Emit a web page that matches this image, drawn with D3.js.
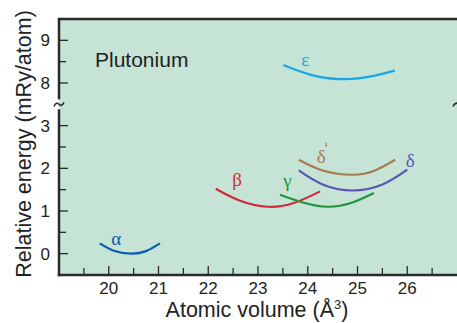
<!DOCTYPE html>
<html>
  <head>
    <meta charset="UTF-8">
    <script src="https://d3js.org/d3.v7.min.js"></script>
    <style>
      body { margin: 0; background: white; }
      text { font-family: "Liberation Sans", Arial, sans-serif; fill: #222; }
      .greek { font-family: "Liberation Serif", "DejaVu Serif", serif; font-size: 19px; }
    </style>
    <title>Plutonium</title>
  </head>
  <body>
    <svg id="chart" width="457" height="323"></svg>
    <script>
      // ticks
      const xMajor = [20, 21, 22, 23, 24, 25, 26];
      const xMinor = [19.5, 20.5, 21.5, 22.5, 23.5, 24.5, 25.5, 26.5];
      const yMajor = [0, 1, 2, 3, 8, 9];
      const yMinor = [0.5, 1.5, 2.5, 8.5];

      // energy curves: [volume, energy]
      const alphaPts  = [[19.82, 0.24], [20.1, 0.07], [20.45, 0.0], [20.75, 0.06], [21.03, 0.24]];
      const betaPts   = [[22.15, 1.52], [22.6, 1.26], [23.2, 1.1], [23.75, 1.2], [24.25, 1.46]];
      const gammaPts  = [[23.44, 1.38], [23.9, 1.2], [24.4, 1.1], [24.9, 1.2], [25.33, 1.42]];
      const deltaPts  = [[23.82, 1.95], [24.3, 1.62], [24.9, 1.48], [25.5, 1.62], [26.0, 1.97]];
      const delta2Pts = [[23.82, 2.2], [24.3, 1.95], [24.9, 1.85], [25.35, 1.95], [25.76, 2.2]];
      const epsPts    = [[23.51, 8.42], [24.1, 8.18], [24.75, 8.09], [25.3, 8.16], [25.75, 8.29]];

      const phaseNames  = ["α", "β", "γ", "δ", "δ", "ε"];
      const phaseCurves = [alphaPts, betaPts, gammaPts, deltaPts, delta2Pts, epsPts];
      const phaseColors = ["#0a5cad", "#d22a3d", "#22943f", "#5a55b2", "#a57c52", "#18a7e6"];
      const labelPos    = [[20.15, 0.21], [22.58, 1.59], [23.59, 1.57], [26.06, 2.02], [24.27, 2.13], [23.95, 8.40]];

      const svg = d3.select("svg#chart");
      const margin = {top: 19, left: 59, bottom: 275, right: 457};

      const x = d3.scaleLinear().domain([19, 27]).range([margin.left, margin.right]);
      // broken axis: 3.5 and 7.5 share the same position
      const brk = 275 - 4 * 256 / 6;
      const y = d3.scaleLinear().domain([-0.5, 3.5, 7.5, 9.5]).range([275, brk, brk, 19]);

      svg.append("rect")
         .attr("x", margin.left).attr("y", margin.top)
         .attr("width", margin.right - margin.left).attr("height", margin.bottom - margin.top)
         .attr("fill", "#c6e4d6");

      const line = d3.line().x(d => x(d[0])).y(d => y(d[1])).curve(d3.curveNatural);

      svg.selectAll("path.phase").data(phaseCurves)
         .enter().append("path")
         .attr("class", "phase")
         .attr("d", d => line(d))
         .attr("fill", "none")
         .attr("stroke", (d, i) => phaseColors[i])
         .attr("stroke-width", 2.2);

      svg.selectAll("text.greek").data(phaseNames)
         .enter().append("text")
         .attr("class", "greek")
         .attr("x", (d, i) => x(labelPos[i][0]))
         .attr("y", (d, i) => y(labelPos[i][1]))
         .attr("text-anchor", "middle")
         .style("fill", (d, i) => phaseColors[i])
         .text(d => d);

      // prime on delta'
      svg.append("line")
         .attr("x1", x(24.27) + 5).attr("x2", x(24.27) + 5)
         .attr("y1", y(2.13) - 20).attr("y2", y(2.13) - 16)
         .attr("stroke", phaseColors[4]).attr("stroke-width", 1.2);

      // axes
      const ax = "#2a2a2a";
      svg.append("g").selectAll("line").data(xMajor.concat(xMinor))
         .enter().append("line")
         .attr("x1", d => x(d)).attr("x2", d => x(d))
         .attr("y1", margin.bottom).attr("y2", d => margin.bottom - (xMajor.includes(d) ? 9 : 7))
         .attr("stroke", ax).attr("stroke-width", 1.3);

      svg.append("g").selectAll("line").data(yMajor.concat(yMinor))
         .enter().append("line")
         .attr("x1", margin.left).attr("x2", d => margin.left + (yMajor.includes(d) ? 9 : 7))
         .attr("y1", d => y(d)).attr("y2", d => y(d))
         .attr("stroke", ax).attr("stroke-width", 1.3);

      svg.append("line")
         .attr("x1", margin.left - 1.25).attr("x2", margin.right)
         .attr("y1", margin.bottom).attr("y2", margin.bottom)
         .attr("stroke", ax).attr("stroke-width", 2.5);
      svg.append("line")
         .attr("x1", margin.left - 1.25).attr("x2", margin.right)
         .attr("y1", margin.top).attr("y2", margin.top)
         .attr("stroke", ax).attr("stroke-width", 2.5);
      svg.append("line")
         .attr("x1", margin.left).attr("x2", margin.left)
         .attr("y1", margin.top).attr("y2", brk - 5)
         .attr("stroke", ax).attr("stroke-width", 2.5);
      svg.append("line")
         .attr("x1", margin.left).attr("x2", margin.left)
         .attr("y1", brk + 5).attr("y2", margin.bottom + 1.25)
         .attr("stroke", ax).attr("stroke-width", 2.5);

      // break marks
      svg.append("path")
         .attr("d", `M${margin.left - 5},${brk + 2} q2.5,-5 5,-2 t5,-2`)
         .attr("fill", "none").attr("stroke", ax).attr("stroke-width", 1.6);
      svg.append("path")
         .attr("d", `M${margin.right - 4},${brk + 2} q2,-4 6,-3`)
         .attr("fill", "none").attr("stroke", ax).attr("stroke-width", 1.6);

      // tick labels
      svg.selectAll("text.xt").data(xMajor)
         .enter().append("text")
         .attr("class", "xt")
         .attr("x", d => x(d)).attr("y", 294)
         .attr("text-anchor", "middle")
         .style("font-size", "17px")
         .text(d => d);

      svg.selectAll("text.yt").data(yMajor)
         .enter().append("text")
         .attr("class", "yt")
         .attr("x", 50).attr("y", d => y(d) + 6)
         .attr("text-anchor", "end")
         .style("font-size", "17px")
         .text(d => d);

      // titles
      svg.append("text")
         .attr("x", 95).attr("y", 67)
         .style("font-size", "21px")
         .text("Plutonium");

      svg.append("text")
         .attr("x", 257).attr("y", 317)
         .attr("text-anchor", "middle")
         .style("font-size", "21.5px")
         .text("Atomic volume (Å")
         .append("tspan").attr("dy", -8).style("font-size", "13px").text("3")
         .select(function() { return this.parentNode; })
         .append("tspan").attr("dy", 8).text(")");

      svg.append("text")
         .attr("transform", "translate(31,144) rotate(-90)")
         .attr("text-anchor", "middle")
         .style("font-size", "21.5px")
         .text("Relative energy (mRy/atom)");
    </script>
  </body>
</html>
